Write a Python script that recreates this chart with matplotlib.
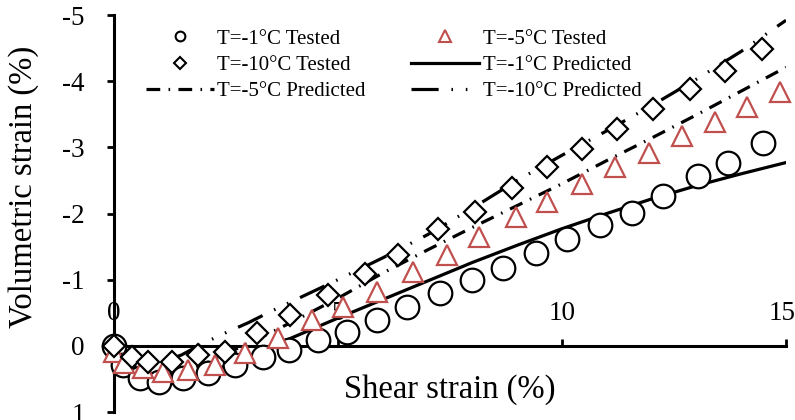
import matplotlib
matplotlib.use("Agg")
import matplotlib.pyplot as plt
from matplotlib.lines import Line2D
from matplotlib.transforms import ScaledTranslation

plt.rcParams['font.family'] = ['Liberation Serif', 'DejaVu Serif']
plt.rcParams['axes.unicode_minus'] = False

# tested data (shear strain %, volumetric strain %)
x_t1 = [0, 0.2, 0.58, 1.0, 1.54, 2.1, 2.7, 3.33, 3.9, 4.55, 5.2, 5.87, 6.54, 7.28,
        7.99, 8.68, 9.42, 10.11, 10.85, 11.56, 12.25, 13.03, 13.7, 14.49]
y_t1 = [0, 0.29, 0.48, 0.55, 0.48, 0.41, 0.29, 0.17, 0.06, -0.09, -0.21, -0.39, -0.59, -0.8,
        -1.0, -1.17, -1.41, -1.62, -1.83, -2.01, -2.26, -2.56, -2.77, -3.06]

x_t5 = [0, 0.22, 0.65, 1.1, 1.66, 2.25, 2.92, 3.67, 4.42, 5.12, 5.87, 6.68, 7.43, 8.15,
        8.97, 9.67, 10.45, 11.18, 11.94, 12.68, 13.42, 14.13, 14.87]
y_t5 = [0.09, 0.26, 0.34, 0.39, 0.36, 0.29, 0.11, -0.12, -0.39, -0.59, -0.82, -1.12, -1.38, -1.64,
        -1.94, -2.17, -2.44, -2.71, -2.92, -3.17, -3.38, -3.61, -3.83]

x_t10 = [0, 0.4, 0.76, 1.29, 1.88, 2.48, 3.19, 3.93, 4.78, 5.6, 6.34, 7.23, 8.06, 8.88,
         9.67, 10.45, 11.23, 12.03, 12.86, 13.64, 14.46]
y_t10 = [0, 0.17, 0.24, 0.24, 0.14, 0.09, -0.2, -0.47, -0.77, -1.08, -1.38, -1.76, -2.03, -2.39,
         -2.7, -2.97, -3.27, -3.58, -3.88, -4.15, -4.48]

# predicted curves
x_p = [0, 0.25, 0.5, 0.75, 1.0, 1.5, 2.0, 2.5, 3.0, 3.5, 4, 5, 6, 7, 8, 9, 10, 11, 12, 13, 14, 15]
y_p1 = [0, 0.35, 0.53, 0.6, 0.6, 0.54, 0.43, 0.3, 0.16, 0.01, -0.13, -0.42, -0.7, -0.98,
        -1.26, -1.52, -1.77, -2.0, -2.22, -2.42, -2.6, -2.77]
y_p5 = [0, 0.25, 0.38, 0.44, 0.45, 0.4, 0.28, 0.12, -0.04, -0.2, -0.37, -0.72, -1.1, -1.45,
        -1.79, -2.12, -2.45, -2.8, -3.14, -3.49, -3.85, -4.21]
y_p10 = [0, 0.15, 0.24, 0.27, 0.26, 0.14, -0.04, -0.2, -0.35, -0.52, -0.68, -1.0, -1.33, -1.68,
         -2.08, -2.5, -2.88, -3.25, -3.63, -4.03, -4.45, -4.92]

red = '#C0504D'
lw = 2.3
dd5 = (4.3, 2.6, 0.5, 2.6)
dd10 = (8.5, 4.0, 0.5, 4.0, 0.5, 4.0)

fig = plt.figure(figsize=(7.95, 4.2), dpi=100)
ax = fig.add_axes([114/795, 8/420, 672/795, 397/420])

ax.plot(x_p, y_p1, color='black', lw=lw, zorder=2)
ax.plot(x_p, y_p5, color='black', lw=lw, dashes=dd5, zorder=2)
ax.plot(x_p, y_p10, color='black', lw=lw, dashes=dd10, zorder=2)

ax.plot(x_t1, y_t1, 'o', ms=17, mfc='white', mec='black', mew=1.6, ls='none', zorder=3, clip_on=False)
ax.plot(x_t5, y_t5, '^', ms=14, mfc='white', mec=red, mew=1.6, ls='none', zorder=4, clip_on=False)
ax.plot(x_t10, y_t10, 'D', ms=11, mfc='white', mec='black', mew=1.6, ls='none', zorder=5, clip_on=False)

ax.set_xlim(0, 15)
ax.set_ylim(1, -5)
ax.set_xticks([0, 5, 10, 15])
ax.set_yticks([-5, -4, -3, -2, -1, 0, 1])

ax.spines['right'].set_visible(False)
ax.spines['bottom'].set_visible(False)
ax.spines['top'].set_position(('data', 0))
ax.spines['top'].set_linewidth(2.2)
ax.spines['left'].set_linewidth(2.2)
ax.xaxis.tick_top()
ax.tick_params(axis='x', direction='out', length=5, width=2, pad=9, labelsize=19.5)
ax.tick_params(axis='y', direction='out', length=5, width=2, pad=16, labelsize=19.5)

# nudge the last x label so it stays inside the figure
fig.canvas.draw()
lab = ax.get_xticklabels()[-1]
lab.set_transform(lab.get_transform() + ScaledTranslation(-4/100, 0, fig.dpi_scale_trans))

fig.text(450/795, (420-390)/420, 'Shear strain (%)', ha='center', va='center', fontsize=23.5)
fig.text(24/795, (420-187)/420, 'Volumetric strain (%)', ha='center', va='center',
         rotation=90, fontsize=23.5)

handles = [
    Line2D([], [], marker='o', ms=7, mfc='white', mec='black', mew=1.5, ls='none'),
    Line2D([], [], marker='D', ms=6, mfc='white', mec='black', mew=1.5, ls='none'),
    Line2D([], [], color='black', lw=lw, dashes=dd5),
    Line2D([], [], marker='^', ms=9, mfc='white', mec=red, mew=1.5, ls='none'),
    Line2D([], [], color='black', lw=lw),
    Line2D([], [], color='black', lw=lw, dashes=dd10),
]
labels = ['T=-1°C Tested', 'T=-10°C Tested', 'T=-5°C Predicted',
          'T=-5°C Tested', 'T=-1°C Predicted', 'T=-10°C Predicted']
ax.legend(handles, labels, ncol=2, frameon=False, fontsize=15,
          loc='upper left', bbox_to_anchor=(0.019, 1.012),
          handlelength=3.3, handletextpad=0.15, columnspacing=2.15, labelspacing=0.33)

fig.savefig('out.png', dpi=100)
